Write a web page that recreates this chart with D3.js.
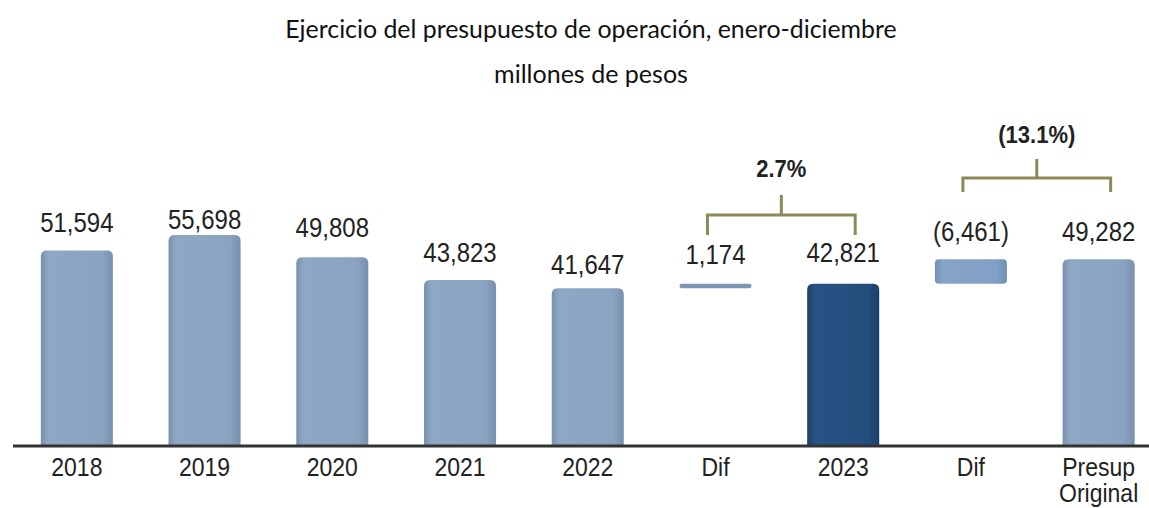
<!DOCTYPE html>
<html>
<head>
<meta charset="utf-8">
<script src="https://cdn.jsdelivr.net/npm/d3@7"></script>
<style>
  body { margin: 0; background: #fff; }
  svg { display: block; }
</style>
</head>
<body>
<svg id="chart" width="1149" height="508"></svg>
<script>
// chart values
var categories = ["2018", "2019", "2020", "2021", "2022", "Dif", "2023", "Dif", "Presup\nOriginal"];
var values = [51594, 55698, 49808, 43823, 41647, 1174, 42821, -6461, 49282];
var kinds = ["bar", "bar", "bar", "bar", "bar", "dif", "cur", "dif", "bar"];
var brackets = [
  {from: 5, to: 6, label: "2.7%"},
  {from: 7, to: 8, label: "(13.1%)"}
];

var W = 1149, H = 508;
var baseY = 446;
var svg = d3.select("#chart");

var x = d3.scaleBand()
  .domain(d3.range(categories.length))
  .range([13, 1162.5])
  .paddingInner(0.436)
  .paddingOuter(0.218);

var y = d3.scaleLinear()
  .domain([0, 60000])
  .range([baseY, baseY - 227.4]);

// label gap above each bar (px), the source places them unevenly
var labelGap = [18, 6, 20, 18, 14, 20, 22, 18, 18];

// gradients: darker at the sides, lighter in the middle
var defs = svg.append("defs");
var palette = {
  bar: ["#7890ad", "#8ea7c5", "#8aa3c1", "#7890ad"],
  cur: ["#1b3f68", "#285384", "#234d7d", "#1b3f68"],
  dif: ["#6f8fb5", "#86a4c8", "#82a0c5", "#6f8fb5"]
};
Object.keys(palette).forEach(function(k) {
  var g = defs.append("linearGradient").attr("id", "g-" + k)
    .attr("x1", 0).attr("x2", 1).attr("y1", 0).attr("y2", 0);
  var c = palette[k];
  [[0, c[0]], [0.1, c[1]], [0.85, c[2]], [1, c[3]]].forEach(function(s) {
    g.append("stop").attr("offset", s[0]).attr("stop-color", s[1]);
  });
});

// span of each bar in data units
function span(i) {
  if (kinds[i] == "dif") {
    var a = values[i - 1], b = values[i + 1];
    return [Math.min(a, b), Math.max(a, b)];
  }
  return [0, values[i]];
}

function topRounded(x0, y0, w, h, r) {
  r = Math.min(r, h / 2, w / 2);
  return "M" + x0 + "," + (y0 + h) +
    "V" + (y0 + r) +
    "Q" + x0 + "," + y0 + " " + (x0 + r) + "," + y0 +
    "H" + (x0 + w - r) +
    "Q" + (x0 + w) + "," + y0 + " " + (x0 + w) + "," + (y0 + r) +
    "V" + (y0 + h) + "Z";
}

var bars = svg.append("g");
categories.forEach(function(c, i) {
  var s = span(i);
  var y0 = y(s[1]), y1 = y(s[0]);
  var fill = "url(#g-" + kinds[i] + ")";
  if (kinds[i] == "dif") {
    var h = Math.max(y1 - y0, 3);
    bars.append("rect")
      .attr("x", x(i)).attr("y", y0)
      .attr("width", x.bandwidth()).attr("height", h)
      .attr("rx", Math.min(4, h / 2))
      .attr("fill", values[i] > 0 ? "#7f96b2" : fill);
  } else {
    bars.append("path")
      .attr("d", topRounded(x(i), y0, x.bandwidth(), y1 - y0, 6))
      .attr("fill", fill);
  }
});

// value labels
var fmt = d3.format(",");
function label(v) { return v < 0 ? "(" + fmt(-v) + ")" : fmt(v); }

svg.append("g").selectAll("text")
  .data(values)
  .join("text")
  .attr("transform", function(d, i) {
    var cx = x(i) + x.bandwidth() / 2;
    return "translate(" + cx + "," + (y(span(i)[1]) - labelGap[i]) + ") scale(1,1.12)";
  })
  .attr("text-anchor", "middle")
  .attr("font-family", "Liberation Sans, Arial, sans-serif")
  .attr("font-size", 24)
  .attr("fill", "#222")
  .text(label);

// axis line
svg.append("line")
  .attr("x1", 13).attr("x2", W)
  .attr("y1", baseY).attr("y2", baseY)
  .attr("stroke", "#333").attr("stroke-width", 3);

// category labels
var cat = svg.append("g");
categories.forEach(function(c, i) {
  var cx = x(i) + x.bandwidth() / 2;
  c.split("\n").forEach(function(line, j) {
    cat.append("text")
      .attr("transform", "translate(" + cx + "," + (476 + j * 26) + ") scale(1,1.12)")
      .attr("text-anchor", "middle")
      .attr("font-family", "Liberation Sans, Arial, sans-serif")
      .attr("font-size", 23)
      .attr("fill", "#222")
      .text(line);
  });
});

// brackets with percentages
var bracketLayout = [
  {lineY: 215, tipY: 235, tickY: 195, textY: 177},
  {lineY: 178, tipY: 192, tickY: 159, textY: 143}
];
brackets.forEach(function(b, k) {
  var L = bracketLayout[k];
  var xl = x(b.from) + x.bandwidth() / 2 - 8;
  var xr = x(b.to) + x.bandwidth() / 2 + 12;
  var xm = (xl + xr) / 2;
  svg.append("path")
    .attr("d", "M" + xl + "," + L.tipY + "V" + L.lineY + "H" + xr + "V" + L.tipY +
      "M" + xm + "," + L.lineY + "V" + L.tickY)
    .attr("fill", "none")
    .attr("stroke", "#8c8a58")
    .attr("stroke-width", 3);
  svg.append("text")
    .attr("transform", "translate(" + xm + "," + L.textY + ") scale(1,1.05)")
    .attr("text-anchor", "middle")
    .attr("font-family", "Liberation Sans, Arial, sans-serif")
    .attr("font-weight", "bold")
    .attr("font-size", 22)
    .attr("fill", "#222")
    .text(b.label);
});

// titles
var titles = [
  {text: "Ejercicio del presupuesto de operación, enero-diciembre", y: 38, width: 612},
  {text: "millones de pesos", y: 83, width: 194}
];
titles.forEach(function(t) {
  var el = svg.append("text")
    .attr("x", 591).attr("y", t.y)
    .attr("text-anchor", "middle")
    .attr("font-family", "Lato, Open Sans, sans-serif")
    .attr("font-size", 22)
    .attr("fill", "#111")
    .text(t.text);
  var len = el.node().getComputedTextLength();
  el.attr("font-size", 22 * t.width / len);
});
</script>
</body>
</html>
